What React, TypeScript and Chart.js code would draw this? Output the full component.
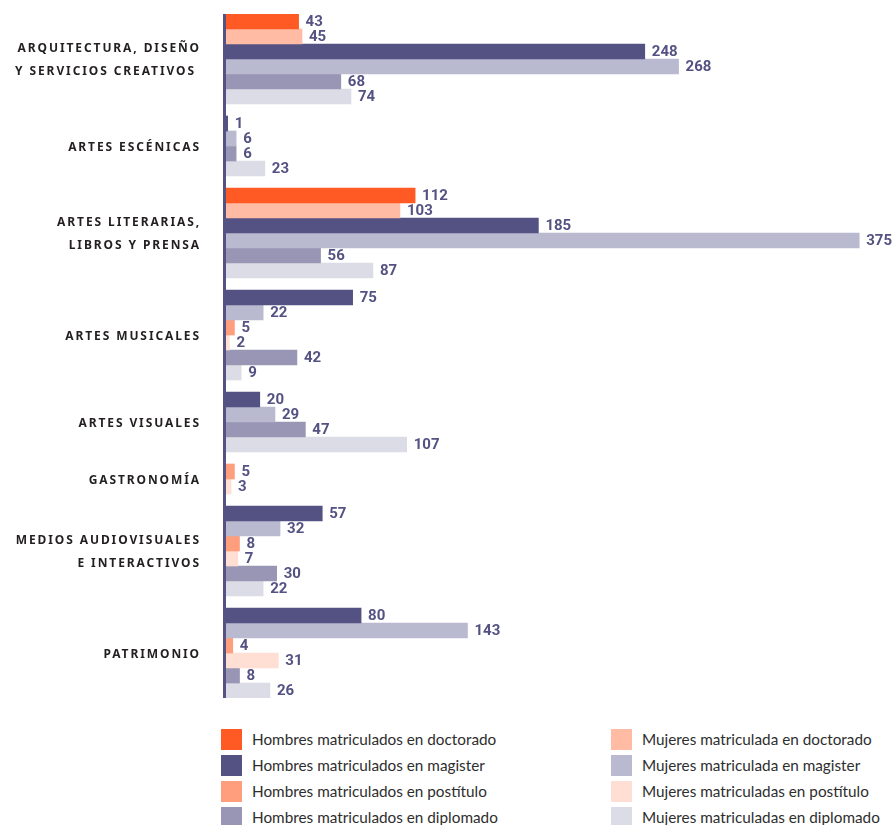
import React, { useEffect, useRef } from "react";
import { Chart, registerables } from "chart.js";

Chart.register(...registerables);

// ---- Data ----
const categories: string[][] = [
  ["ARQUITECTURA, DISEÑO", "Y SERVICIOS CREATIVOS "],
  ["ARTES ESCÉNICAS"],
  ["ARTES LITERARIAS,", "LIBROS Y PRENSA"],
  ["ARTES MUSICALES"],
  ["ARTES VISUALES"],
  ["GASTRONOMÍA"],
  ["MEDIOS AUDIOVISUALES", "E INTERACTIVOS"],
  ["PATRIMONIO"],
];

const hombresDoctorado = [43, null, 112, null, null, null, null, null];
const mujeresDoctorado = [45, null, 103, null, null, null, null, null];
const hombresMagister = [248, 1, 185, 75, 20, null, 57, 80];
const mujeresMagister = [268, 6, 375, 22, 29, null, 32, 143];
const hombresPostitulo = [null, null, null, 5, null, 5, 8, 4];
const mujeresPostitulo = [null, null, null, 2, null, 3, 7, 31];
const hombresDiplomado = [68, 6, 56, 42, 47, null, 30, 8];
const mujeresDiplomado = [74, 23, 87, 9, 107, null, 22, 26];

const series = [
  { name: "Hombres matriculados en doctorado", values: hombresDoctorado, color: "#ff5a24" },
  { name: "Mujeres matriculada en doctorado", values: mujeresDoctorado, color: "#ffbba3" },
  { name: "Hombres matriculados en magister", values: hombresMagister, color: "#545283" },
  { name: "Mujeres matriculada en magister", values: mujeresMagister, color: "#b9b9cf" },
  { name: "Hombres matriculados en postítulo", values: hombresPostitulo, color: "#ff9e7c" },
  { name: "Mujeres matriculadas en postítulo", values: mujeresPostitulo, color: "#ffdfd4" },
  { name: "Hombres matriculados en diplomado", values: hombresDiplomado, color: "#9896b4" },
  { name: "Mujeres matriculadas en diplomado", values: mujeresDiplomado, color: "#dcdce6" },
];

const legendLeft = [0, 2, 4, 6];
const legendRight = [1, 3, 5, 7];

const GROUP_GAP = 0.8; // in bar-row units

// Build row positions: only non-null values take a row inside their group
function buildLayout() {
  const positions: (number | null)[][] = series.map(() => []);
  const groupCenters: number[] = [];
  let cursor = 0;
  categories.forEach((_, ci) => {
    if (ci > 0) cursor += GROUP_GAP;
    const start = cursor;
    series.forEach((s, si) => {
      const v = s.values[ci];
      if (v != null) {
        positions[si][ci] = cursor + 0.5;
        cursor += 1;
      } else {
        positions[si][ci] = null;
      }
    });
    groupCenters.push((start + cursor) / 2);
  });
  return { positions, groupCenters, total: cursor };
}

export default function App() {
  const canvasRef = useRef<HTMLCanvasElement | null>(null);

  useEffect(() => {
    if (!canvasRef.current) return;
    const { positions, groupCenters, total } = buildLayout();

    const datasets = series.map((s, si) => ({
      label: s.name,
      data: s.values
        .map((v, ci) => (v == null ? null : { x: v, y: positions[si][ci] as number }))
        .filter((d) => d !== null) as { x: number; y: number }[],
      backgroundColor: s.color,
      borderWidth: 0,
      grouped: false,
      barPercentage: 1,
      categoryPercentage: 1,
    }));

    const extrasPlugin = {
      id: "extras",
      beforeDatasetsDraw(chart: any) {
        const { ctx, chartArea } = chart;
        ctx.save();
        ctx.strokeStyle = "#545283";
        ctx.lineWidth = 3;
        ctx.beginPath();
        ctx.moveTo(chartArea.left - 1.5, chartArea.top);
        ctx.lineTo(chartArea.left - 1.5, chartArea.bottom);
        ctx.stroke();
        ctx.restore();
      },
      afterDatasetsDraw(chart: any) {
        const { ctx } = chart;
        const yScale = chart.scales.y;
        ctx.save();
        // value labels
        ctx.font = "bold 15px Roboto";
        ctx.fillStyle = "#545283";
        ctx.textAlign = "left";
        ctx.textBaseline = "middle";
        chart.data.datasets.forEach((ds: any, di: number) => {
          const meta = chart.getDatasetMeta(di);
          meta.data.forEach((el: any, i: number) => {
            const v = ds.data[i].x;
            ctx.fillText(String(v), el.x + 7, el.y + 0.5);
          });
        });
        // category labels
        ctx.font = "bold 12px 'Noto Sans'";
        ctx.fillStyle = "#231f20";
        ctx.textAlign = "right";
        (ctx as any).letterSpacing = "1.9px";
        categories.forEach((lines, ci) => {
          const cy = yScale.getPixelForValue(groupCenters[ci]);
          const lh = 23;
          lines.forEach((line, li) => {
            const y = cy + (li - (lines.length - 1) / 2) * lh + 1.5;
            ctx.fillText(line, 201, y);
          });
        });
        (ctx as any).letterSpacing = "0px";
        ctx.restore();
      },
    };

    const chart = new Chart(canvasRef.current, {
      type: "bar",
      data: { datasets: datasets as any },
      options: {
        indexAxis: "y",
        animation: false,
        responsive: false,
        maintainAspectRatio: false,
        layout: { padding: { left: 226, right: 3, top: 14, bottom: 14 } },
        plugins: { legend: { display: false }, tooltip: { enabled: false } },
        scales: {
          x: { type: "linear", min: 0, max: 395, display: false },
          y: {
            type: "linear",
            min: 0,
            max: total,
            reverse: true,
            offset: false,
            display: false,
            afterBuildTicks: (scale: any) => {
              scale.ticks = [{ value: 0 }];
            },
          },
        },
      },
      plugins: [extrasPlugin],
    });
    return () => chart.destroy();
  }, []);

  const legendItem = (si: number, left: number, row: number) => (
    <div
      key={si}
      style={{
        position: "absolute",
        left,
        top: 729 + row * 26,
        height: 21,
        display: "flex",
        alignItems: "center",
        whiteSpace: "nowrap",
      }}
    >
      <div style={{ width: 21, height: 21, background: series[si].color, flex: "none" }} />
      <span
        style={{
          marginLeft: 10,
          marginTop: -2,
          fontFamily: "Lato, 'Noto Sans', sans-serif",
          fontSize: 15.3,
          color: "#2e2e2e",
        }}
      >
        {series[si].name}
      </span>
    </div>
  );

  return (
    <div style={{ position: "absolute", left: 0, top: 0, width: 896, height: 825, background: "#fff" }}>
      <canvas ref={canvasRef} width={896} height={712} style={{ display: "block" }} />
      {legendLeft.map((si, row) => legendItem(si, 221, row))}
      {legendRight.map((si, row) => legendItem(si, 611, row))}
    </div>
  );
}
